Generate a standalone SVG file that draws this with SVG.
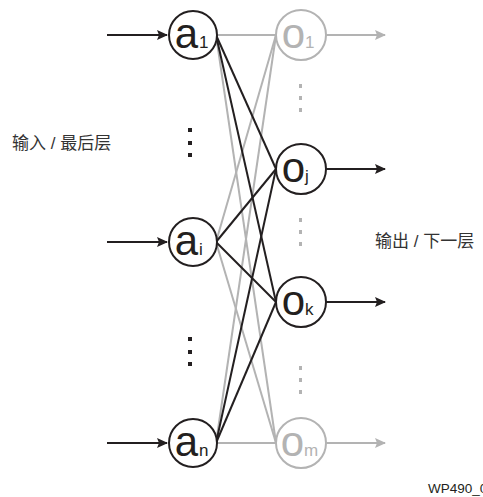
<svg xmlns="http://www.w3.org/2000/svg" width="483" height="497" viewBox="0 0 483 497">
<style>
.blk{stroke:#231f20;stroke-width:2;fill:none}
.gry{stroke:#b3b3b3;stroke-width:2;fill:none}
.nb{stroke:#231f20;stroke-width:2;fill:#fff}
.ng{stroke:#b3b3b3;stroke-width:2;fill:#fff}
.lb{font-family:"Liberation Sans",Arial,sans-serif;font-size:42px;fill:#231f20}
.lg{font-family:"Liberation Sans",Arial,sans-serif;font-size:42px;fill:#b3b3b3}
.sb{font-family:"Liberation Sans",Arial,sans-serif;font-size:17px;fill:#231f20}
.sg{font-family:"Liberation Sans",Arial,sans-serif;font-size:17px;fill:#b3b3b3}
.cn{font-family:"Liberation Sans","Noto Sans CJK SC",sans-serif;font-size:17px;fill:#333}
</style>
<defs>
<marker id="ab" markerWidth="12" markerHeight="10" refX="10" refY="5" orient="auto" markerUnits="userSpaceOnUse"><path d="M0,0 L11,5 L0,10 L2,5 Z" fill="#231f20"/></marker>
<marker id="ag" markerWidth="12" markerHeight="10" refX="10" refY="5" orient="auto" markerUnits="userSpaceOnUse"><path d="M0,0 L11,5 L0,10 L2,5 Z" fill="#b3b3b3"/></marker>
</defs>
<g id="connectors">
<line class="gry" x1="216" y1="35" x2="276" y2="35"/>
<line class="gry" x1="216" y1="35" x2="276" y2="443"/>
<line class="gry" x1="216" y1="242" x2="276" y2="35"/>
<line class="gry" x1="216" y1="242" x2="276" y2="443"/>
<line class="gry" x1="216" y1="443" x2="276" y2="35"/>
<line class="gry" x1="216" y1="443" x2="276" y2="443"/>
<line class="blk" x1="216" y1="35" x2="276" y2="169"/>
<line class="blk" x1="216" y1="35" x2="276" y2="302"/>
<line class="blk" x1="216" y1="242" x2="276" y2="169"/>
<line class="blk" x1="216" y1="242" x2="276" y2="302"/>
<line class="blk" x1="216" y1="443" x2="276" y2="169"/>
<line class="blk" x1="216" y1="443" x2="276" y2="302"/>
<line class="blk" x1="107" y1="35" x2="167" y2="35" marker-end="url(#ab)"/>
<line class="blk" x1="107" y1="242" x2="167" y2="242" marker-end="url(#ab)"/>
<line class="blk" x1="107" y1="443" x2="167" y2="443" marker-end="url(#ab)"/>
<line class="gry" x1="326" y1="35" x2="385" y2="35" marker-end="url(#ag)"/>
<line class="blk" x1="326" y1="169" x2="385" y2="169" marker-end="url(#ab)"/>
<line class="blk" x1="326" y1="302" x2="385" y2="302" marker-end="url(#ab)"/>
<line class="gry" x1="326" y1="443" x2="385" y2="443" marker-end="url(#ag)"/>
</g>
<g id="a1"><circle class="nb" cx="193" cy="35" r="24"/><text class="lb" x="198" y="48" text-anchor="end">a</text><text class="sb" x="199" y="48">1</text></g>
<g id="ai"><circle class="nb" cx="193" cy="242" r="24"/><text class="lb" x="198" y="255" text-anchor="end">a</text><text class="sb" x="199" y="255">i</text></g>
<g id="an"><circle class="nb" cx="193" cy="443" r="24"/><text class="lb" x="198" y="456" text-anchor="end">a</text><text class="sb" x="199" y="456">n</text></g>
<g id="o1"><circle class="ng" cx="301" cy="35" r="25"/><text class="lg" x="305" y="48" text-anchor="end">o</text><text class="sg" x="305" y="48">1</text></g>
<g id="oj"><circle class="nb" cx="301" cy="169" r="25"/><text class="lb" x="305" y="182" text-anchor="end">o</text><text class="sb" x="305" y="182">j</text></g>
<g id="ok"><circle class="nb" cx="301" cy="302" r="25"/><text class="lb" x="305" y="315" text-anchor="end">o</text><text class="sb" x="305" y="315">k</text></g>
<g id="om"><circle class="ng" cx="301" cy="443" r="25"/><text class="lg" x="304" y="456" text-anchor="end">o</text><text class="sg" x="304" y="456">m</text></g>
<g id="dots" fill="#231f20">
<rect x="188" y="128" width="4" height="4"/><rect x="188" y="141" width="4" height="4"/><rect x="188" y="153" width="4" height="4"/>
<rect x="188" y="337" width="4" height="4"/><rect x="188" y="350" width="4" height="4"/><rect x="188" y="362" width="4" height="4"/>
</g>
<g id="gdots" fill="#b3b3b3">
<rect x="299" y="84" width="3" height="4"/><rect x="299" y="96" width="3" height="4"/><rect x="299" y="108" width="3" height="4"/>
<rect x="299" y="218" width="3" height="4"/><rect x="299" y="230" width="3" height="4"/><rect x="299" y="242" width="3" height="4"/>
<rect x="299" y="366" width="3" height="4"/><rect x="299" y="378" width="3" height="4"/><rect x="299" y="390" width="3" height="4"/>
</g>
<text class="cn" x="12" y="149">输入 / 最后层</text>
<text class="cn" x="375" y="247">输出 / 下一层</text>
<text x="428" y="493" font-family="Liberation Sans,Arial,sans-serif" font-size="13.5" fill="#231f20">WP490_0</text>
</svg>
